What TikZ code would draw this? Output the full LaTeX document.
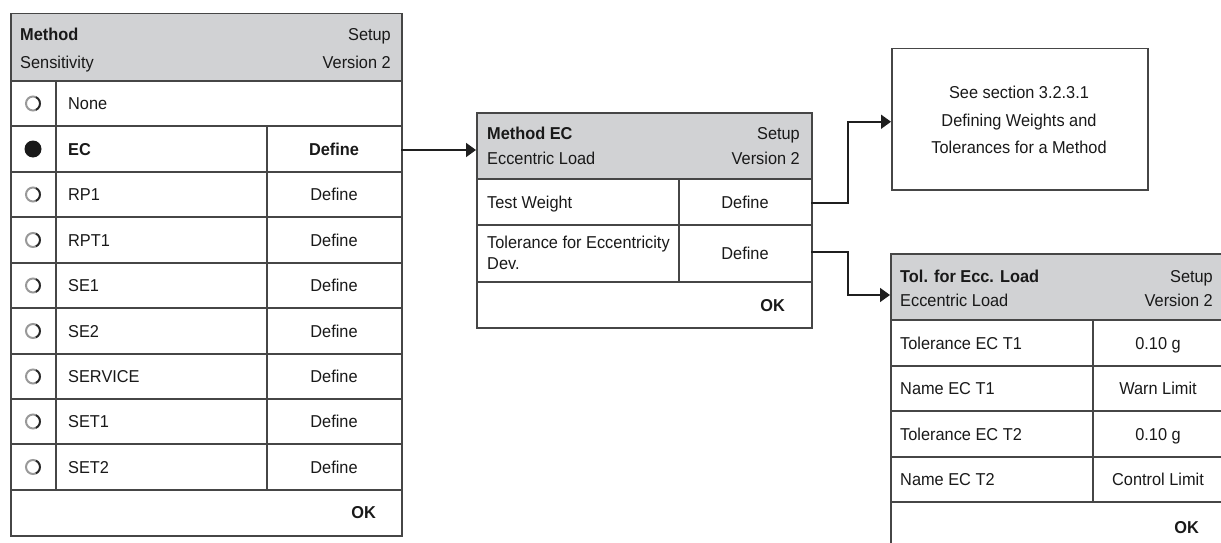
\documentclass[tikz,border=0pt]{standalone}
\usepackage{fontspec}
\setmainfont{Liberation Sans}[FakeStretch=0.95]
\usetikzlibrary{arrows.meta}
\definecolor{hdr}{RGB}{209,210,212}
\definecolor{ln}{RGB}{70,70,70}
\definecolor{tx}{RGB}{25,25,25}
\begin{document}
\begin{tikzpicture}[x=1pt,y=-1pt,
  panel/.style={draw=ln, line width=1.5pt, rectangle, inner sep=0pt, anchor=north west},
  gridl/.style={draw=ln, line width=1.3pt},
  txt/.style={inner sep=0pt, text height=12.3pt, text depth=0pt, font=\fontsize{17.2}{21}\selectfont, text=tx},
  lt/.style={txt, anchor=west},
  rt/.style={txt, anchor=east},
  ct/.style={txt, anchor=center},
  bf/.style={font=\fontsize{17.2}{21}\selectfont\bfseries},
  conn/.style={draw=black!88, line width=1.8pt, -{Triangle[length=10pt,width=14pt]}},
  radiooff/.style={circle, draw=black!40, line width=2pt, minimum size=14pt, inner sep=0pt},
  radioon/.style={circle, fill=black!90, minimum size=17pt, inner sep=0pt},
]
\useasboundingbox (0,0) rectangle (1221,543);

% ---------------- Panel 1 ----------------
\fill[hdr] (10,13) rectangle (401,81);
\foreach \yy in {81,126,172,217,263,308,354,399,444,490}
  \draw[gridl] (10,\yy) -- (401,\yy);
\draw[gridl] (56,81) -- (56,490);
\draw[gridl] (267,126) -- (267,490);
\node[panel, minimum width=391pt, minimum height=522pt] (P1) at (10,13) {};

\node[lt,bf] (p1t1) at (20,34) {Method};
\node[lt] (p1t2) at (20,62) {Sensitivity};
\node[rt] (p1t3) at (391,34) {Setup};
\node[rt] (p1t4) at (391,62) {Version 2};

\node[radiooff] (r0) at (33,103.5) {};
\node[radioon]  (r1) at (33,149) {};
\node[radiooff] (r2) at (33,194.5) {};
\node[radiooff] (r3) at (33,240) {};
\node[radiooff] (r4) at (33,285.5) {};
\node[radiooff] (r5) at (33,331) {};
\node[radiooff] (r6) at (33,376.5) {};
\node[radiooff] (r7) at (33,421.5) {};
\node[radiooff] (r8) at (33,467) {};
\foreach \yy in {103.5,194.5,240,285.5,331,376.5,421.5,467}
  \draw[black!85, line width=1.8pt] (33,\yy) ++(-65:7) arc[start angle=-65, end angle=65, radius=7];

\node[lt] (l0) at (68,103.5) {None};
\node[lt,bf] (l1) at (68,149) {EC};
\node[lt] (l2) at (68,194.5) {RP1};
\node[lt] (l3) at (68,240) {RPT1};
\node[lt] (l4) at (68,285.5) {SE1};
\node[lt] (l5) at (68,331) {SE2};
\node[lt] (l6) at (68,376.5) {SERVICE};
\node[lt] (l7) at (68,421.5) {SET1};
\node[lt] (l8) at (68,467) {SET2};

\node[ct,bf] (d1) at (334,149) {Define};
\node[ct] (d2) at (334,194.5) {Define};
\node[ct] (d3) at (334,240) {Define};
\node[ct] (d4) at (334,285.5) {Define};
\node[ct] (d5) at (334,331) {Define};
\node[ct] (d6) at (334,376.5) {Define};
\node[ct] (d7) at (334,421.5) {Define};
\node[ct] (d8) at (334,467) {Define};
\node[rt,bf] (ok1) at (376,512) {OK};

% ---------------- Panel 2 ----------------
\fill[hdr] (476,112) rectangle (811,179);
\foreach \yy in {179,225,282}
  \draw[gridl] (476,\yy) -- (811,\yy);
\draw[gridl] (679,179) -- (679,282);
\node[panel, minimum width=335pt, minimum height=215pt] (P2) at (476,112) {};

\node[lt,bf] (p2t1) at (487,133) {Method EC};
\node[lt] (p2t2) at (487,158) {Eccentric Load};
\node[rt] (p2t3) at (800,133) {Setup};
\node[rt] (p2t4) at (800,158) {Version 2};
\node[lt] (m1) at (487,202) {Test Weight};
\node[lt] (m2a) at (487,242) {Tolerance for Eccentricity};
\node[lt] (m2b) at (487,263) {Dev.};
\node[ct] (md1) at (745,202) {Define};
\node[ct] (md2) at (745,253) {Define};
\node[rt,bf] (ok2) at (785,305) {OK};

% ---------------- Reference box ----------------
\node[panel, minimum width=256pt, minimum height=141pt] (P3) at (891,48) {};
\node[ct] (s1) at (1019,92) {See section 3.2.3.1};
\node[ct] (s2) at (1019,120) {Defining Weights and};
\node[ct] (s3) at (1019,147) {Tolerances for a Method};

% ---------------- Panel 4 ----------------
\fill[hdr] (890,253) rectangle (1224,320);
\foreach \yy in {320,366,411,457,502}
  \draw[gridl] (890,\yy) -- (1224,\yy);
\draw[gridl] (1093,320) -- (1093,502);
\node[panel, minimum width=334pt, minimum height=307pt] (P4) at (890,253) {};

\node[lt,bf] (p4t1) at (900,276) {Tol. for Ecc. Load};
\node[lt] (p4t2) at (900,300) {Eccentric Load};
\node[rt] (p4t3) at (1213,276) {Setup};
\node[rt] (p4t4) at (1213,300) {Version 2};
\node[lt] (t1) at (900,343) {Tolerance EC T1};
\node[lt] (t2) at (900,388.5) {Name EC T1};
\node[lt] (t3) at (900,434) {Tolerance EC T2};
\node[lt] (t4) at (900,479.5) {Name EC T2};
\node[ct] (v1) at (1158,343) {0.10 g};
\node[ct] (v2) at (1158,388.5) {Warn Limit};
\node[ct] (v3) at (1158,434) {0.10 g};
\node[ct] (v4) at (1158,479.5) {Control Limit};
\node[rt,bf] (ok4) at (1199,527) {OK};

% ---------------- Connectors ----------------
\coordinate (a1) at (401,150);
\coordinate (a2) at (811,203);
\coordinate (a3) at (811,252);
\coordinate (b3) at (890,295);
\draw[conn] (a1) -- (P2.west |- a1);
\draw[conn] (a2) -- (848,203) |- ([yshift=-2.5pt]P3.west);
\draw[conn] (a3) -- (848,252) |- (b3);
\end{tikzpicture}
\end{document}
